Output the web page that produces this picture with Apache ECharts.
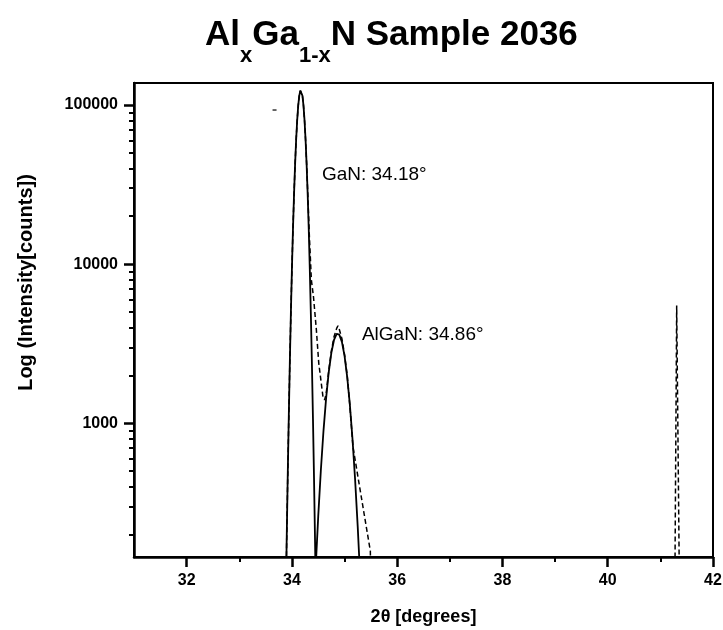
<!DOCTYPE html>
<html>
<head>
<meta charset="utf-8">
<title>AlxGa1-xN Sample 2036</title>
<script src="https://cdn.jsdelivr.net/npm/echarts@6/dist/echarts.min.js"></script>
<style>
  html, body { margin: 0; padding: 0; background: #fff; }
  #chart { width: 723px; height: 630px; }
</style>
</head>
<body>
<div id="chart"></div>
<script>
// 2theta positions / intensities
var gaNFit = [
  [33.88, 65], [33.90, 178], [33.92, 453], [33.94, 1070], [33.96, 2370],
  [33.98, 4850], [34.00, 9270], [34.02, 16500], [34.04, 27200], [34.06, 41900],
  [34.08, 60000], [34.10, 80000], [34.12, 99200], [34.14, 114500], [34.16, 123000],
  [34.17, 124000], [34.18, 123000], [34.20, 114500], [34.22, 99200], [34.24, 80000],
  [34.26, 60000], [34.28, 41900], [34.30, 27200], [34.32, 16500], [34.34, 9270],
  [34.36, 4850], [34.38, 2370], [34.40, 1070], [34.42, 453], [34.44, 178], [34.46, 65]
]
var alGaNFit = [
  [34.44, 103], [34.45, 121], [34.50, 260], [34.55, 507], [34.60, 897],
  [34.65, 1440], [34.70, 2100], [34.75, 2780], [34.80, 3340], [34.85, 3650],
  [34.87, 3670], [34.90, 3610], [34.95, 3250], [35.00, 2650], [35.05, 1960],
  [35.10, 1320], [35.15, 806], [35.20, 447], [35.25, 225], [35.30, 103]
]
var measured = [
  [33.88, 65], [33.90, 178], [33.92, 453], [33.94, 1070], [33.96, 2370],
  [33.98, 4850], [34.00, 9270], [34.02, 16500], [34.04, 27200], [34.06, 41900],
  [34.08, 60000], [34.10, 80000], [34.12, 99200], [34.14, 114500], [34.16, 123000],
  [34.17, 124000], [34.18, 123000], [34.20, 114500], [34.22, 99200], [34.24, 80000],
  [34.26, 60000], [34.28, 42500], [34.30, 28500], [34.33, 15500], [34.37, 7940],
  [34.41, 6240], [34.465, 3850], [34.51, 2390], [34.59, 1470], [34.62, 1400],
  [34.65, 1520], [34.70, 2150], [34.75, 2850], [34.80, 3500], [34.85, 3950],
  [34.875, 4100], [34.90, 3900], [34.95, 3400], [35.00, 2700], [35.05, 2000],
  [35.10, 1300], [35.16, 713], [35.25, 471], [35.35, 298], [35.45, 189],
  [35.49, 158], [35.51, 50], [41.27, 50], [41.31, 5500], [41.37, 50]
]
var strayMark = [[33.67, 93000]]

var xMajorTicks = [32, 34, 36, 38, 40, 42]
var xMinorTicks = [33, 35, 37, 39, 41]
var yMajorTicks = [1000, 10000, 100000]
var yMinorTicks = [200, 300, 400, 500, 600, 700, 800, 900,
  2000, 3000, 4000, 5000, 6000, 7000, 8000, 9000,
  20000, 30000, 40000, 50000, 60000, 70000, 80000, 90000]

var peakLabels = [
  { text: 'GaN: 34.18°', coord: [34.56, 36300] },
  { text: 'AlGaN: 34.86°', coord: [35.32, 3590] }
]

var font = '"Liberation Sans", Arial, sans-serif'

var chart = echarts.init(document.getElementById('chart'), null, { renderer: 'canvas' })

chart.setOption({
  animation: false,
  backgroundColor: '#fff',
  textStyle: { fontFamily: font, color: '#000' },
  title: {
    text: '{m|Al}{s|x}{m|Ga}{s|1-x}{m|N Sample 2036}',
    left: 205,
    top: 18,
    padding: 0,
    textStyle: {
      rich: {
        m: { fontFamily: font, fontWeight: 'bold', fontSize: 35, lineHeight: 40, verticalAlign: 'top', color: '#000' },
        s: { fontFamily: font, fontWeight: 'bold', fontSize: 22, lineHeight: 22, padding: [27, 0, 0, 0], verticalAlign: 'top', color: '#000' }
      }
    }
  },
  grid: {
    left: 134,
    right: 10,
    top: 83,
    bottom: 73,
    show: true,
    borderColor: '#000',
    borderWidth: 2,
    outerBoundsMode: 'none'
  },
  xAxis: [{
    type: 'value',
    min: 31,
    max: 42,
    name: '2θ [degrees]',
    nameLocation: 'middle',
    nameGap: 51,
    nameTextStyle: { fontFamily: font, fontWeight: 'bold', fontSize: 18, color: '#000' },
    splitLine: { show: false },
    axisLine: { show: true, onZero: false, lineStyle: { color: '#000', width: 2.5 } },
    axisTick: { show: true, customValues: xMajorTicks, length: 10, lineStyle: { color: '#000', width: 2.5 } },
    axisLabel: {
      customValues: xMajorTicks,
      margin: 16,
      fontFamily: font, fontWeight: 'bold', fontSize: 16, color: '#000',
      formatter: function (v) { return String(Math.round(v)) }
    }
  }, {
    type: 'value',
    min: 31,
    max: 42,
    position: 'bottom',
    splitLine: { show: false },
    axisLine: { show: false, onZero: false },
    axisTick: { show: true, customValues: xMinorTicks, length: 5, lineStyle: { color: '#000', width: 2 } },
    axisLabel: { show: false }
  }],
  yAxis: [{
    type: 'log',
    logBase: 10,
    min: 144.5,
    max: 137500,
    name: 'Log (Intensity[counts])',
    nameLocation: 'middle',
    nameGap: 98,
    nameTextStyle: { fontFamily: font, fontWeight: 'bold', fontSize: 20, color: '#000', padding: [0, 0, 0, 75] },
    splitLine: { show: false },
    axisLine: { show: true, onZero: false, lineStyle: { color: '#000', width: 2.5 } },
    axisTick: { show: true, customValues: yMajorTicks, length: 10, lineStyle: { color: '#000', width: 2.5 } },
    axisLabel: {
      customValues: yMajorTicks,
      margin: 16,
      fontFamily: font, fontWeight: 'bold', fontSize: 16, color: '#000',
      formatter: function (v) { return String(Math.round(v)) }
    }
  }, {
    type: 'log',
    logBase: 10,
    min: 144.5,
    max: 137500,
    position: 'left',
    splitLine: { show: false },
    axisLine: { show: false, onZero: false },
    axisTick: { show: true, customValues: yMinorTicks, length: 5, lineStyle: { color: '#000', width: 2 } },
    axisLabel: { show: false }
  }],
  series: [{
    name: 'GaN fit',
    type: 'line',
    data: gaNFit,
    showSymbol: false,
    clip: true,
    lineStyle: { color: '#000', width: 1.8 },
    markPoint: {
      symbol: 'circle',
      symbolSize: 1,
      itemStyle: { color: 'rgba(0,0,0,0)' },
      label: {
        show: true,
        position: 'right',
        distance: 0,
        fontFamily: font,
        fontSize: 19,
        color: '#000',
        formatter: function (p) { return p.name }
      },
      data: peakLabels.map(function (d) { return { name: d.text, coord: d.coord } })
    }
  }, {
    name: 'AlGaN fit',
    type: 'line',
    data: alGaNFit,
    showSymbol: false,
    clip: true,
    lineStyle: { color: '#000', width: 1.8 }
  }, {
    name: 'measured',
    type: 'line',
    data: measured,
    showSymbol: false,
    clip: true,
    lineStyle: { color: '#000', width: 1.5, type: [5, 3] }
  }, {
    name: 'mark',
    type: 'scatter',
    data: strayMark,
    symbol: 'rect',
    symbolSize: [4, 1.5],
    itemStyle: { color: '#000' }
  }]
})
</script>
</body>
</html>
